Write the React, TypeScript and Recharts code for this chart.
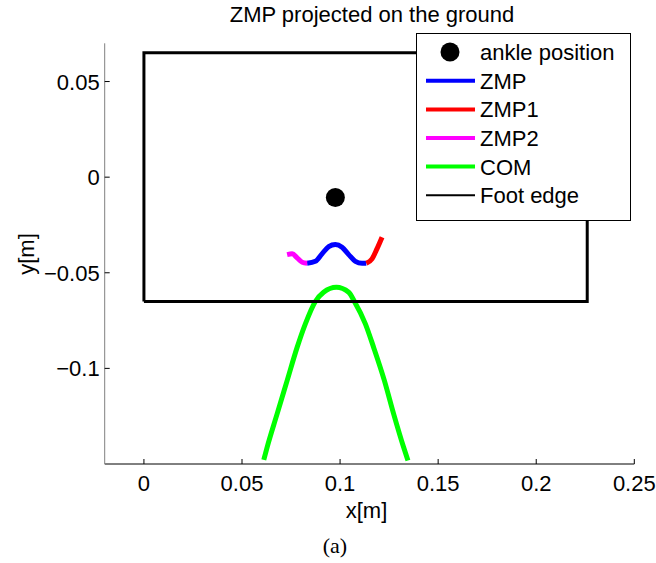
import { ComposedChart, Line, Scatter, XAxis, YAxis, Legend } from 'recharts';

// values (metres)
const ankleX = [0.0976];
const ankleY = [-0.0106];

const zmpX = [0.0832, 0.0874, 0.0908, 0.0942, 0.0976, 0.101, 0.1044, 0.1078, 0.1112, 0.1134];
const zmpY = [-0.045, -0.044, -0.0401, -0.0363, -0.0352, -0.0366, -0.0405, -0.044, -0.045, -0.045];

const zmp1X = [0.1134, 0.1163, 0.1188, 0.1214];
const zmp1Y = [-0.045, -0.0427, -0.0375, -0.0314];

const zmp2X = [0.073, 0.0756, 0.0781, 0.0807, 0.0832];
const zmp2Y = [-0.0405, -0.0401, -0.0422, -0.0445, -0.045];

const comX = [
  0.0611, 0.0628, 0.0679, 0.073, 0.0781, 0.0823, 0.0874, 0.0916, 0.0981,
  0.1044, 0.1073, 0.1129, 0.1171, 0.1226, 0.1273, 0.1324, 0.1346,
];
const comY = [
  -0.1479, -0.1413, -0.1238, -0.1064, -0.089, -0.0767, -0.065, -0.0602, -0.0576,
  -0.0602, -0.065, -0.0767, -0.089, -0.1064, -0.1238, -0.1413, -0.1482,
];

const footX = [0, 0, 0.226, 0.226, 0];
const footY = [-0.065, 0.065, 0.065, -0.065, -0.065];

const xTicks = [0, 0.05, 0.1, 0.15, 0.2, 0.25];
const yTicks = [0.05, 0, -0.05, -0.1];

const legendItems = [
  { name: 'ankle position', color: '#000000', kind: 'dot' },
  { name: 'ZMP', color: '#0000ff', kind: 'line' },
  { name: 'ZMP1', color: '#ff0000', kind: 'line' },
  { name: 'ZMP2', color: '#ff00ff', kind: 'line' },
  { name: 'COM', color: '#00ff00', kind: 'line' },
  { name: 'Foot edge', color: '#000000', kind: 'edge' },
];

const zip = (xs: number[], ys: number[]) => xs.map((x, i) => ({ x, y: ys[i] }));

const FONT = '"Liberation Sans", Arial, Helvetica, sans-serif';
const fmt = (v: number) => String(v).replace('-', '\u2212');

const XTick = (props: any) => {
  const { x, y, payload } = props;
  return (
    <g>
      <line x1={x} x2={x} y1={y} y2={y - 5} stroke="#000" strokeWidth={1} />
      <text x={x} y={y + 27} textAnchor="middle" fontSize={22} fontFamily={FONT} fill="#000">
        {fmt(payload.value)}
      </text>
    </g>
  );
};

const YTick = (props: any) => {
  const { x, y, payload } = props;
  return (
    <g>
      <line x1={x} x2={x + 5} y1={y} y2={y} stroke="#000" strokeWidth={1} />
      <text x={x - 5} y={y + 8} textAnchor="end" fontSize={22} fontFamily={FONT} fill="#000">
        {fmt(payload.value)}
      </text>
    </g>
  );
};

const LegendBox = () => {
  const rowY = [19, 47.7, 76.4, 105, 133.5, 162.3];
  return (
    <svg width={215} height={188} style={{ display: 'block' }}>
      <rect x={0.5} y={0.5} width={214} height={187} fill="#fff" stroke="#000" strokeWidth={1} />
      {legendItems.map((item, i) => (
        <g key={item.name}>
          {item.kind === 'dot' ? (
            <circle cx={34} cy={rowY[i]} r={9.5} fill={item.color} />
          ) : (
            <line
              x1={10}
              x2={59}
              y1={rowY[i]}
              y2={rowY[i]}
              stroke={item.color}
              strokeWidth={item.kind === 'edge' ? 2 : 4}
            />
          )}
          <text x={64} y={rowY[i] + 8} fontSize={22} fontFamily={FONT} fill="#000">
            {item.name}
          </text>
        </g>
      ))}
    </svg>
  );
};

const hideDot = () => <g />;

export default function App() {
  return (
    <div style={{ position: 'absolute', left: 0, top: 0, width: 656, height: 563, background: '#fff' }}>
      <ComposedChart width={656} height={563} margin={{ top: 43.3, right: 21.7, bottom: 39, left: 44.7 }}>
        <text x={372} y={22} textAnchor="middle" fontSize={22} fontFamily={FONT} fill="#000">
          ZMP projected on the ground
        </text>
        <text x={34} y={0} transform="translate(0,254) rotate(-90 34 0)" textAnchor="middle" fontSize={22} fontFamily={FONT} fill="#000">
          y[m]
        </text>
        <text x={335} y={553} textAnchor="middle" fontSize={22} fontFamily='"Liberation Serif", "Times New Roman", serif' fill="#000">
          (a)
        </text>
        <XAxis
          type="number"
          dataKey="x"
          domain={[-0.02, 0.25]}
          ticks={xTicks}
          allowDataOverflow
          height={60}
          tickSize={0}
          tickMargin={0}
          tick={<XTick />}
          axisLine={{ stroke: '#000', strokeWidth: 1 }}
          label={{ value: 'x[m]', position: 'insideBottom', offset: 6, fontSize: 22, fontFamily: FONT, fill: '#000', dx: -3 }}
        />
        <YAxis
          type="number"
          dataKey="y"
          domain={[-0.15, 0.07]}
          ticks={yTicks}
          allowDataOverflow
          width={60}
          tickSize={0}
          tickMargin={0}
          tick={<YTick />}
          axisLine={{ stroke: '#808080', strokeWidth: 1 }}
        />
        <Scatter
          name="ankle position"
          data={zip(ankleX, ankleY)}
          fill="#000"
          isAnimationActive={false}
          shape={(p: any) => <circle cx={p.cx} cy={p.cy} r={9.5} fill="#000" />}
        />
        <Line name="ZMP" data={zip(zmpX, zmpY)} dataKey="y" type="monotone" stroke="#0000ff" strokeWidth={5} dot={false} isAnimationActive={false} />
        <Line name="ZMP1" data={zip(zmp1X, zmp1Y)} dataKey="y" type="monotone" stroke="#ff0000" strokeWidth={5} dot={false} isAnimationActive={false} />
        <Line name="ZMP2" data={zip(zmp2X, zmp2Y)} dataKey="y" type="monotone" stroke="#ff00ff" strokeWidth={5} dot={false} isAnimationActive={false} />
        <Line name="COM" data={zip(comX, comY)} dataKey="y" type="monotone" stroke="#00ff00" strokeWidth={5} dot={false} isAnimationActive={false} />
        <Scatter
          name="Foot edge"
          data={zip(footX, footY)}
          line={{ stroke: '#000', strokeWidth: 3 }}
          lineType="joint"
          shape={hideDot}
          isAnimationActive={false}
        />
        <Legend
          layout="horizontal"
          verticalAlign="middle"
          align="center"
          content={() => <LegendBox />}
          wrapperStyle={{ left: 416, top: 33, width: 215, height: 188 }}
        />
      </ComposedChart>
    </div>
  );
}
